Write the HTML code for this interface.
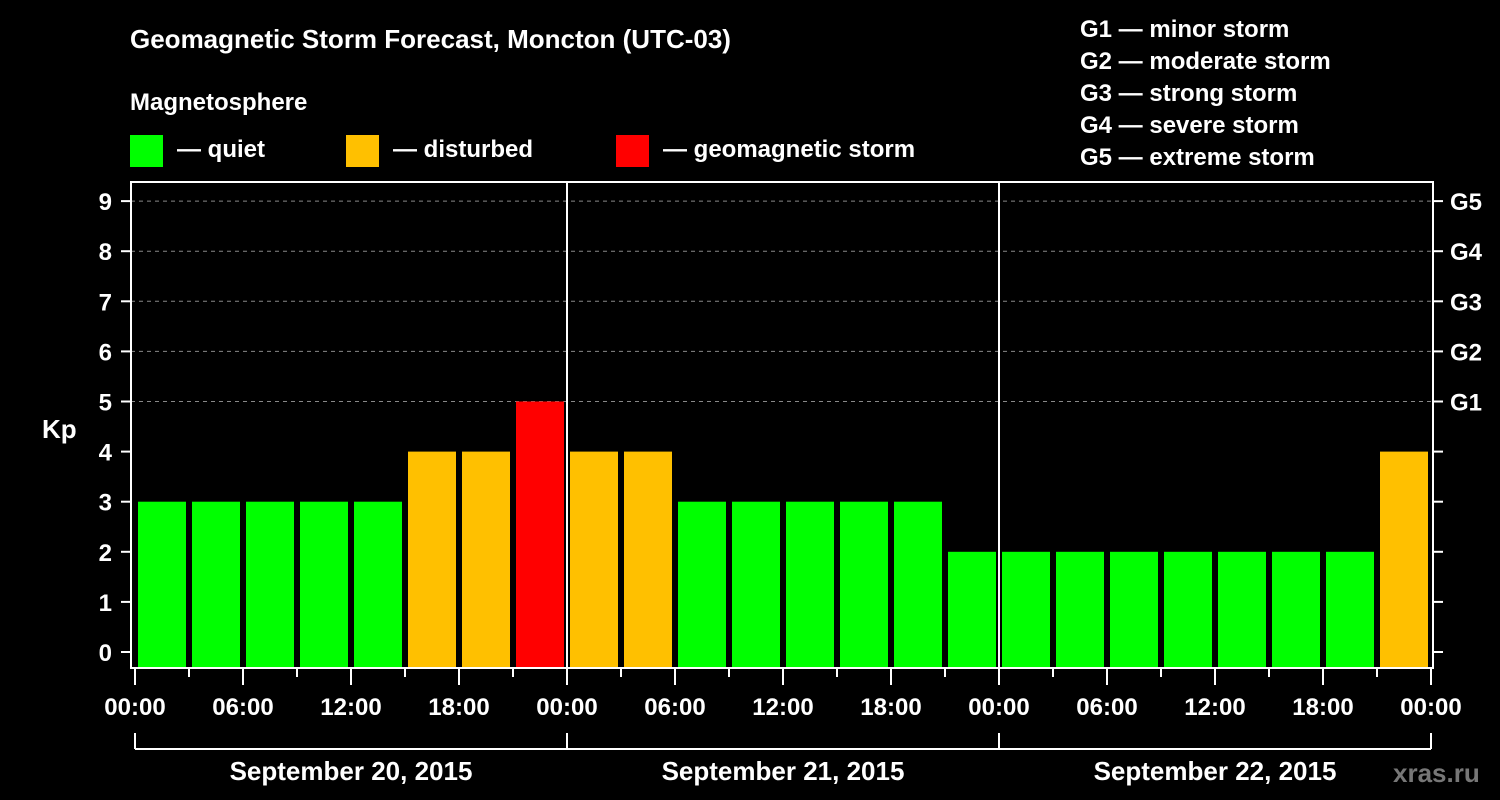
<!DOCTYPE html>
<html><head><meta charset="utf-8"><style>
html,body{margin:0;padding:0;background:#000;}
svg{display:block;font-family:"Liberation Sans",Arial,sans-serif;font-weight:bold;}
</style></head><body>
<svg id="chart" width="1500" height="800" viewBox="0 0 1500 800">
<rect width="1500" height="800" fill="#000"/>
<text x="130" y="48" fill="#fff" font-size="26">Geomagnetic Storm Forecast, Moncton (UTC-03)</text>
<text x="130" y="110" fill="#fff" font-size="24">Magnetosphere</text>
<g><rect x="130" y="135" width="33" height="32" fill="#00ff00"/><text x="177" y="157" fill="#fff" font-size="24">— quiet</text></g>
<g><rect x="346" y="135" width="33" height="32" fill="#ffc000"/><text x="393" y="157" fill="#fff" font-size="24">— disturbed</text></g>
<g><rect x="616" y="135" width="33" height="32" fill="#ff0000"/><text x="663" y="157" fill="#fff" font-size="24">— geomagnetic storm</text></g>
<g fill="#fff" font-size="24">
<text x="1080" y="37">G1 — minor storm</text>
<text x="1080" y="69">G2 — moderate storm</text>
<text x="1080" y="101">G3 — strong storm</text>
<text x="1080" y="133">G4 — severe storm</text>
<text x="1080" y="165">G5 — extreme storm</text>
</g>
<text x="42" y="438" fill="#fff" font-size="26">Kp</text>
<text x="1393" y="782" fill="#777" font-size="26">xras.ru</text>
<g id="grid"></g><g id="bars"></g><g id="axes"></g>
</svg>
<script>
const kpValues = [3,3,3,3,3,4,4,5, 4,4,3,3,3,3,3,2, 2,2,2,2,2,2,2,4];
const dayLabels = ["September 20, 2015","September 21, 2015","September 22, 2015"];
const timeLabels = ["00:00","06:00","12:00","18:00"];
const gLabels = ["G1","G2","G3","G4","G5"];
const NS="http://www.w3.org/2000/svg";
const x0=135, dayW=432, barW=48;
const yKp=v=>652-v*50.1;
const xH=h=>x0+h*dayW/24;
function mk(tag,attrs,parent,text){const e=document.createElementNS(NS,tag);for(const k in attrs)e.setAttribute(k,attrs[k]);if(text!==undefined)e.textContent=text;parent.appendChild(e);return e;}
const grid=document.getElementById('grid'),bars=document.getElementById('bars'),axes=document.getElementById('axes');
for(let v=5;v<=9;v++){const l=mk('line',{x1:131,x2:1433,y1:yKp(v),y2:yKp(v),stroke:'#888','stroke-width':1,'stroke-dasharray':'4,4'},grid);

}
kpValues.forEach((v,i)=>{const c=v>=5?'#ff0000':(v>=4?'#ffc000':'#00ff00');
const cx=xH(i*3+1.5);
const r=mk('rect',{x:cx-barW/2,y:yKp(v),width:barW,height:668-yKp(v),fill:c},bars);

});
const fr=mk('rect',{x:131,y:182,width:1302,height:486,fill:'none',stroke:'#fff','stroke-width':2},axes);


for(let d=1;d<dayLabels.length;d++){mk('line',{x1:x0+d*dayW,x2:x0+d*dayW,y1:182,y2:668,stroke:'#fff','stroke-width':2},axes);}
for(let v=0;v<=9;v++){mk('line',{x1:121,x2:131,y1:yKp(v),y2:yKp(v),stroke:'#fff','stroke-width':2},axes);
mk('line',{x1:1433,x2:1443,y1:yKp(v),y2:yKp(v),stroke:'#fff','stroke-width':2},axes);
const t=mk('text',{x:112,y:yKp(v)+9,fill:'#fff','font-size':24,'text-anchor':'end'},axes,String(v));

}
gLabels.forEach((g,i)=>{const t=mk('text',{x:1450,y:yKp(5+i)+9,fill:'#fff','font-size':24},axes,g);

});
for(let h=0;h<=72;h+=3){const major=h%6===0;mk('line',{x1:xH(h),x2:xH(h),y1:668,y2:major?685:677,stroke:'#fff','stroke-width':2},axes);
if(major){const t=mk('text',{x:xH(h),y:715,fill:'#fff','font-size':24,'text-anchor':'middle'},axes,timeLabels[(h/6)%4]);

}}
mk('line',{x1:x0,x2:x0+dayLabels.length*dayW,y1:749,y2:749,stroke:'#fff','stroke-width':2},axes);
for(let d=0;d<=dayLabels.length;d++){mk('line',{x1:x0+d*dayW,x2:x0+d*dayW,y1:733,y2:749,stroke:'#fff','stroke-width':2},axes);}
dayLabels.forEach((s,d)=>{const t=mk('text',{x:x0+d*dayW+dayW/2,y:780,fill:'#fff','font-size':26,'text-anchor':'middle'},axes,s);

});
</script>
</body></html>
